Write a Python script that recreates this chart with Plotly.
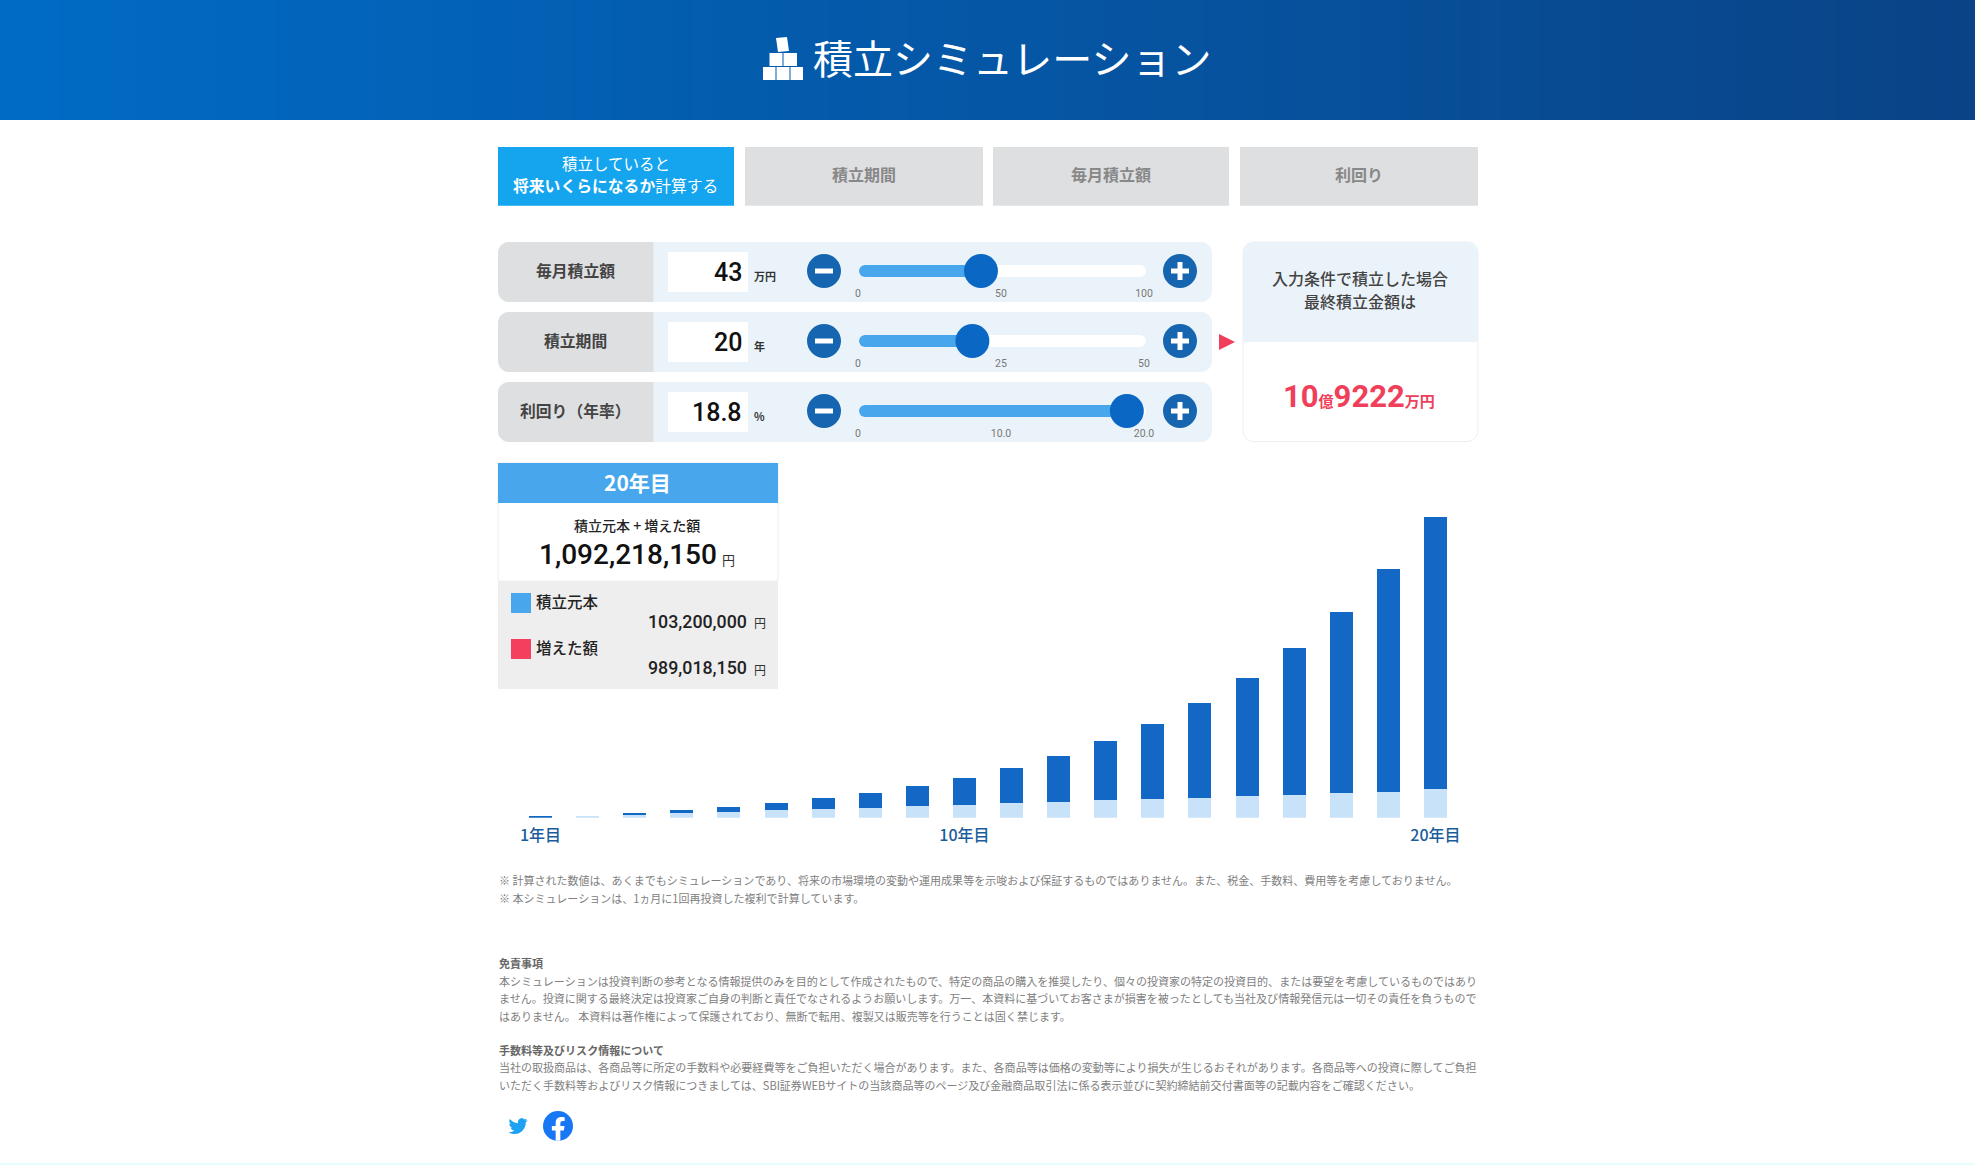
import re
import plotly.graph_objects as go

W, H = 1975, 1165
JP = '"Noto Sans CJK JP", sans-serif'
NUM = 'Roboto, "Noto Sans CJK JP", sans-serif'

# chart values, in man-yen
years = list(range(1, 21))
principal = [0, 450, 1000, 1700, 2070, 2800, 3160, 3520, 4250, 4610,
             5450, 5810, 6540, 6900, 7260, 7990, 8350, 9080, 9440, 10320]
growth = [360, 0, 710, 1100, 1820, 2540, 3990, 5450, 7260, 9810,
          12600, 16600, 21320, 27130, 34400, 42750, 53290, 65630, 80890, 98902]
year_ticks = [1, 10, 20]
year_labels = ['1年目', '10年目', '20年目']

# sliders
row_labels = ['毎月積立額', '積立期間', '利回り（年率）']
row_texts = ['43', '20', '18.8']
row_units = ['万円', '年', '%']
slider_values = [43, 20, 18.8]
slider_max = [100, 50, 20]
slider_ticks = [[0, 50, 100], [0, 25, 50], [0, 10, 20]]
slider_ticktext = [['0', '50', '100'], ['0', '25', '50'], ['0', '10.0', '20.0']]

tabs = ['積立期間', '毎月積立額', '利回り']

note_lines = ['※ 計算された数値は、あくまでもシミュレーションであり、将来の市場環境の変動や運用成果等を示唆および保証するものではありません。また、税金、手数料、費用等を考慮しておりません。',
              '※ 本シミュレーションは、1ヵ月に1回再投資した複利で計算しています。']
disclaimer = ['本シミュレーションは投資判断の参考となる情報提供のみを目的として作成されたもので、特定の商品の購入を推奨したり、個々の投資家の特定の投資目的、または要望を考慮しているものではあり',
              'ません。投資に関する最終決定は投資家ご自身の判断と責任でなされるようお願いします。万一、本資料に基づいてお客さまが損害を被ったとしても当社及び情報発信元は一切その責任を負うもので',
              'はありません。 本資料は著作権によって保護されており、無断で転用、複製又は販売等を行うことは固く禁じます。']
risk = ['当社の取扱商品は、各商品等に所定の手数料や必要経費等をご負担いただく場合があります。また、各商品等は価格の変動等により損失が生じるおそれがあります。各商品等への投資に際してご負担',
        'いただく手数料等およびリスク情報につきましては、SBI証券WEBサイトの当該商品等のページ及び金融商品取引法に係る表示並びに契約締結前交付書面等の記載内容をご確認ください。']

BLUE_BAR, LIGHT_BAR = '#1468c5', '#c8e2fa'
SKY, RED, GREY, PALE = '#48a7ec', '#f43f5e', '#dedfe1', '#ebf3fa'
BTN = '#1565b0'

px = lambda x: x / W
py = lambda y: 1 - y / H
shapes = []
annots = []


def rect(x0, y0, x1, y1, color, line=None):
    shapes.append(dict(type='rect', xref='paper', yref='paper', x0=px(x0), x1=px(x1), y0=py(y0), y1=py(y1),
                       fillcolor=color, line=dict(width=1 if line else 0, color=line or color), layer='below'))


def svg_path(d, x0=0, y0=0, s=1):
    # only absolute M L C Z, numbers come as x y pairs
    out, is_x = [], True
    for tok in re.findall(r'[MLCZ]|-?[\d.]+', d):
        if tok in 'MLCZ':
            out.append(tok)
        else:
            v = float(tok)
            out.append(f'{px(x0 + v * s):.5f}' if is_x else f'{py(y0 + v * s):.5f}')
            is_x = not is_x
    return ' '.join(out)


def path(d, color, x0=0, y0=0, s=1):
    shapes.append(dict(type='path', xref='paper', yref='paper', path=svg_path(d, x0, y0, s),
                       fillcolor=color, line=dict(width=0), layer='below'))


def round_rect(x0, y0, x1, y1, color, r=(11, 11, 11, 11), line=None):
    tl, tr, br, bl = r
    k = 0.45
    d = (f'M {x0 + tl} {y0} L {x1 - tr} {y0} C {x1 - tr * k} {y0} {x1} {y0 + tr * k} {x1} {y0 + tr} '
         f'L {x1} {y1 - br} C {x1} {y1 - br * k} {x1 - br * k} {y1} {x1 - br} {y1} '
         f'L {x0 + bl} {y1} C {x0 + bl * k} {y1} {x0} {y1 - bl * k} {x0} {y1 - bl} '
         f'L {x0} {y0 + tl} C {x0} {y0 + tl * k} {x0 + tl * k} {y0} {x0 + tl} {y0} Z')
    shapes.append(dict(type='path', xref='paper', yref='paper', path=svg_path(d), fillcolor=color,
                       line=dict(width=1 if line else 0, color=line or color), layer='below'))


def circle(cx, cy, r, color):
    shapes.append(dict(type='circle', xref='paper', yref='paper', x0=px(cx - r), x1=px(cx + r), y0=py(cy + r), y1=py(cy - r),
                       fillcolor=color, line=dict(width=0), layer='below'))


def text(x, y, s, size, color='#333', anchor='center', font=JP, weight=None):
    annots.append(dict(xref='paper', yref='paper', x=px(x), y=py(y), text=s, showarrow=False, xanchor=anchor, yanchor='middle',
                       align=anchor, borderpad=0, font=dict(family=font, size=size, color=color, weight=weight)))


# header gradient
n_strips = 100
c0, c1 = (0, 107, 197), (10, 67, 134)
for i in range(n_strips):
    t = i / (n_strips - 1)
    col = 'rgb(%d,%d,%d)' % tuple(round(a + (b - a) * t) for a, b in zip(c0, c1))
    rect(i * W / n_strips, 0, (i + 1) * W / n_strips + 1, 120, col)
# block icon
rect(763, 67, 775.5, 80, 'white')
rect(776.5, 67, 789.5, 80, 'white')
rect(790.5, 67, 803, 80, 'white')
rect(769.5, 53, 782.5, 66, 'white')
rect(783.5, 53, 797, 66, 'white')
path('M 776 38 L 787 37 L 789 51 L 778 52 Z', 'white')
text(1012, 57, '積立シミュレーション', 40, 'white', weight=400)

# tabs
rect(498, 147, 734, 205.7, '#14a5ee')
text(615.5, 163, '積立していると', 15.5, 'white')
text(615.5, 186, '<b>将来いくらになるか</b>計算する', 15.8, 'white')
for (x0, x1), label in zip([(745, 983), (993, 1229), (1240, 1478)], tabs):
    rect(x0, 147, x1, 205.7, GREY)
    text((x0 + x1) / 2, 174, label, 16, '#888', weight=700)

# slider rows
row_tops = [242, 312, 382]
for top, label, val, unit in zip(row_tops, row_labels, row_texts, row_units):
    round_rect(498, top, 1212, top + 60, PALE)
    round_rect(498, top, 653.5, top + 60, GREY, r=(11, 0, 0, 11))
    rect(668, top + 10, 748, top + 50, 'white')
    cy = top + 29
    text(575, cy - 1, label, 15.8, '#444', weight=700)
    text(743, cy + 1, val, 25, '#111', anchor='right', font=NUM, weight=500)
    text(753, cy + 5, unit, 11, '#333', anchor='left', weight=700)
    circle(824, cy, 17, BTN)
    rect(815, cy - 2.5, 833, cy + 2.5, 'white')
    circle(1180, cy, 17, BTN)
    rect(1171, cy - 2.5, 1189, cy + 2.5, 'white')
    rect(1177.5, cy - 9, 1182.5, cy + 9, 'white')

# result card
path('M 1219 334 L 1235 342 L 1219 350 Z', '#ef3f5a')
round_rect(1243, 242, 1478, 441.5, 'white', line='#eceef2')
round_rect(1243, 242, 1478, 342, PALE, r=(11, 11, 0, 0))
text(1360, 278, '入力条件で積立した場合', 16, '#444', weight=500)
text(1360, 301, '最終積立金額は', 16, '#444', weight=500)
text(1359, 396, '<b><span style="font-size:31px">10</span><span style="font-size:15px">億</span>'
     '<span style="font-size:31px">9222</span><span style="font-size:15px">万円</span></b>', 15, '#ef3f5a', font=NUM)

# info panel on the chart
rect(498, 463, 778, 581, 'white', line='#eeeeee')
rect(498, 463, 778, 503, SKY)
rect(498, 581, 778, 689, '#eeeeee')
text(637, 482, '20年目', 21, 'white', weight=700)
text(637, 525, '積立元本 + 増えた額', 14, '#222', weight=500)
text(537.5, 554, '1,092,218,150', 28, '#111', anchor='left', font=NUM, weight=500)
text(721, 559, '円', 13, '#333', anchor='left')
rect(511, 593, 531, 613, SKY)
text(535, 601, '積立元本', 15.5, '#222', anchor='left', weight=500)
text(748, 621, '103,200,000', 17.8, '#222', anchor='right', font=NUM, weight=500)
text(753, 623, '円', 12, '#333', anchor='left')
rect(511, 639, 531, 659, RED)
text(535, 647, '増えた額', 15.5, '#222', anchor='left', weight=500)
text(748, 667, '989,018,150', 17.8, '#222', anchor='right', font=NUM, weight=500)
text(753, 669, '円', 12, '#333', anchor='left')

# small print
SMALL, SMALL_COL = 11.03, '#808080'
text(498, 880, note_lines[0], SMALL, SMALL_COL, anchor='left')
text(498, 898, note_lines[1], SMALL, SMALL_COL, anchor='left')
text(498, 963, '<b>免責事項</b>', SMALL, '#666', anchor='left')
for y, line in zip([981, 998, 1016], disclaimer):
    text(498, y, line, SMALL, SMALL_COL, anchor='left')
text(498, 1050, '<b>手数料等及びリスク情報について</b>', SMALL, '#666', anchor='left')
for y, line in zip([1067, 1085], risk):
    text(498, y, line, SMALL, SMALL_COL, anchor='left')

# social icons
bird = ('M 23.95 4.57 L 21.13 5.35 L 23.29 2.62 L 20.16 3.81 C 18.8 2.3 16.3 1.8 14.2 2.9 C 12.3 3.9 11.3 6.1 11.78 8.29 '
        'C 7.69 8.1 4.07 6.13 1.64 3.16 C 0.35 5.4 1 8.3 3.16 9.73 L 0.93 9.12 C 1 11.5 2.6 13.5 4.88 14 L 2.67 14.09 '
        'C 3.3 16.1 5.1 17.45 7.27 17.51 C 5.5 18.9 3.4 19.65 1.17 19.61 L 0 19.54 C 2.25 21 4.9 21.75 7.56 21.75 '
        'C 16.61 21.75 21.56 14.26 21.56 7.77 L 21.54 7.14 C 22.5 6.45 23.3 5.6 23.95 4.57 Z')
path(bird, '#1da1f2', 508.5, 1116.5, 0.8)
circle(558, 1126, 15, '#1877f2')
eff = ('M 16.67 15.54 L 17.2 12.07 L 13.88 12.07 L 13.88 9.82 C 13.88 8.87 14.34 7.95 15.83 7.95 L 17.34 7.95 L 17.34 5 '
       'C 17.34 5 15.97 4.76 14.66 4.76 C 11.92 4.76 10.13 6.42 10.13 9.43 L 10.13 12.07 L 7.08 12.07 L 7.08 15.54 L 10.13 15.54 '
       'L 10.13 23.9 L 13.88 23.9 L 13.88 15.54 Z')
path(eff, 'white', 543, 1111, 1.25)

# faint band at the bottom of the page
rect(0, 1162.7, W, H, '#e8fdfd')

fig = go.Figure()
fig.add_trace(go.Bar(x=years, y=principal, marker=dict(color=LIGHT_BAR, line=dict(width=0)), name='積立元本', showlegend=False))
fig.add_trace(go.Bar(x=years, y=growth, marker=dict(color=BLUE_BAR, line=dict(width=0)), name='増えた額', showlegend=False))

# slider tracks live on their own small axes
layout_axes = {}
for i, (val, vmax, ticks, labels, top) in enumerate(zip(slider_values, slider_max, slider_ticks, slider_ticktext, row_tops)):
    n = i + 2
    xa, ya = f'x{n}', f'y{n}'
    # round caps stick out 6px, so the line stops short of the axis ends
    t0, t1 = vmax * 7 / 286, vmax * 282 / 286
    fig.add_trace(go.Scatter(x=[t0, t1], y=[0.5, 0.5], xaxis=xa, yaxis=ya, mode='lines+markers', hoverinfo='skip', showlegend=False,
                             line=dict(color='white', width=12), marker=dict(color='white', size=12), cliponaxis=False))
    fig.add_trace(go.Scatter(x=[t0, val], y=[0.5, 0.5], xaxis=xa, yaxis=ya, mode='lines', hoverinfo='skip', showlegend=False,
                             line=dict(color=SKY, width=12), cliponaxis=False))
    fig.add_trace(go.Scatter(x=[t0], y=[0.5], xaxis=xa, yaxis=ya, mode='markers', hoverinfo='skip', showlegend=False,
                             marker=dict(color=SKY, size=12), cliponaxis=False))
    fig.add_trace(go.Scatter(x=[val], y=[0.5], xaxis=xa, yaxis=ya, mode='markers', hoverinfo='skip', showlegend=False,
                             marker=dict(color='#0a68c4', size=34), cliponaxis=False))
    layout_axes[f'xaxis{n}'] = dict(domain=[px(858), px(1144)], range=[0, vmax], anchor=ya, showgrid=False, zeroline=False, showline=False,
                                    tickmode='array', tickvals=ticks, ticktext=labels, ticks='outside', ticklen=4, tickcolor='rgba(0,0,0,0)',
                                    automargin=False, tickfont=dict(family=NUM, size=10.5, color='#777'))
    layout_axes[f'yaxis{n}'] = dict(domain=[py(top + 37), py(top + 21)], range=[0, 1], visible=False, anchor=xa, automargin=False)

fig.update_layout(
    width=W, height=H, margin=dict(l=0, r=0, t=0, b=0, autoexpand=False),
    paper_bgcolor='white', plot_bgcolor='rgba(0,0,0,0)',
    barmode='stack', bargap=0.51,
    shapes=shapes, annotations=annots,
    xaxis=dict(domain=[px(517), px(1459)], range=[0.5, 20.5], showgrid=False, zeroline=False, showline=False, automargin=False,
               tickmode='array', tickvals=year_ticks, ticktext=year_labels, ticks='outside', ticklen=3, tickcolor='rgba(0,0,0,0)',
               tickfont=dict(family=JP, size=16, color='#1a5d9a', weight=500)),
    yaxis=dict(domain=[py(817.7), py(487.3)], range=[0, 120000], visible=False, automargin=False),
    **layout_axes,
)

fig.write_html("out.html", config=dict(displayModeBar=False), post_script="document.body.style.margin='0';")
